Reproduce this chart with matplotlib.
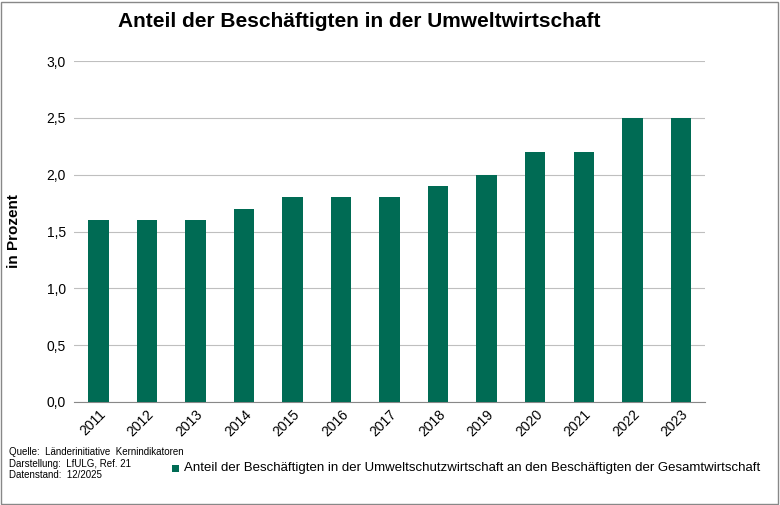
import matplotlib
matplotlib.use("Agg")
import matplotlib.pyplot as plt
from matplotlib.patches import Rectangle

years = ["2011","2012","2013","2014","2015","2016","2017","2018","2019","2020","2021","2022","2023"]
values = [1.6,1.6,1.6,1.7,1.8,1.8,1.8,1.9,2.0,2.2,2.2,2.5,2.5]
yticks = [0.0,0.5,1.0,1.5,2.0,2.5,3.0]
ytick_labels = ["0,0","0,5","1,0","1,5","2,0","2,5","3,0"]
legend_label = "Anteil der Beschäftigten in der Umweltschutzwirtschaft an den Beschäftigten der Gesamtwirtschaft"
color = "#006B54"

plt.rcParams['font.family'] = ['Liberation Sans', 'DejaVu Sans']
fig = plt.figure(figsize=(7.8, 5.05), dpi=100)
fig.patches.append(Rectangle((0.001, 0.002), 0.997, 0.995, transform=fig.transFigure,
                             fill=False, edgecolor="#888888", linewidth=1))
ax = fig.add_axes([0.095, 0.204, 0.809, 0.675])
x = range(len(years))
ax.bar(x, values, width=0.42, color=color, zorder=3)
ax.set_xlim(-0.5, len(years) - 0.5)
ax.set_ylim(0, 3.0)
ax.set_yticks(yticks)
ax.set_yticklabels(ytick_labels, fontsize=10)
ax.set_xticks(list(x))
ax.set_xticklabels(years, rotation=45, fontsize=10, ha="right", rotation_mode="anchor")
ax.grid(axis="y", color="#bfbfbf", linewidth=0.8, zorder=0)
for s in ["top", "right", "left"]:
    ax.spines[s].set_visible(False)
ax.spines["bottom"].set_color("#888888")
ax.tick_params(axis="y", length=0, pad=6)
ax.tick_params(axis="x", length=0, pad=4)
ax.set_ylabel("in Prozent", fontsize=11, fontweight="bold", labelpad=18)

fig.text(0.46, 0.958, "Anteil der Beschäftigten in der Umweltwirtschaft",
         ha="center", va="center", fontsize=15, fontweight="bold")
fig.text(0.012, 0.082, "Quelle:  Länderinitiative  Kernindikatoren\nDarstellung:  LfULG, Ref. 21\nDatenstand:  12/2025",
         ha="left", va="center", fontsize=7, linespacing=1.15)
fig.patches.append(Rectangle((0.22, 0.066), 0.009, 0.014, transform=fig.transFigure,
                             facecolor=color, edgecolor="none"))
fig.text(0.236, 0.073, legend_label, ha="left", va="center", fontsize=9.5)

fig.savefig("out.png", dpi=100)
